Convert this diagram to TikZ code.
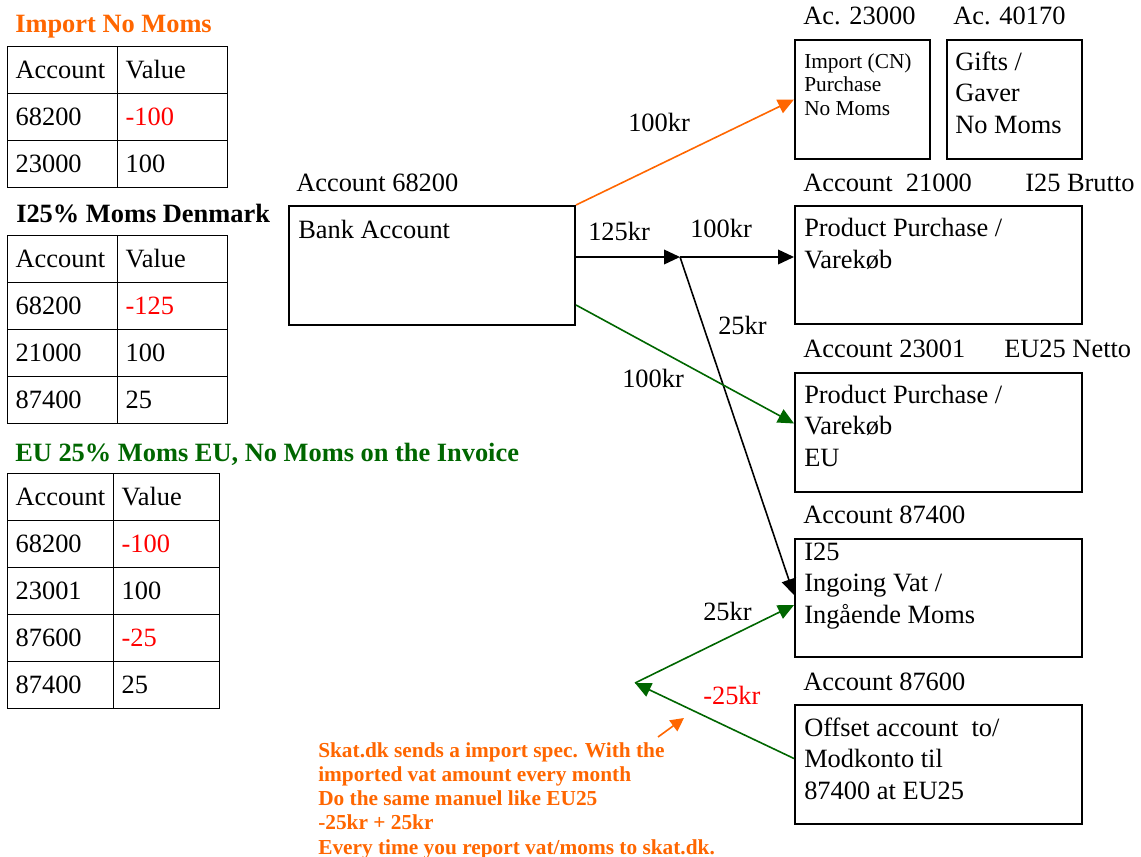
\documentclass[tikz,border=0pt]{standalone}
\usepackage{fontspec}
\setmainfont{Liberation Serif}
\usepackage{tikz}
\usetikzlibrary{arrows.meta, positioning, calc}
\definecolor{importorange}{RGB}{255,102,0}
\definecolor{eugreen}{RGB}{0,102,0}
\definecolor{minusred}{RGB}{255,0,0}

\begin{document}
\begin{tikzpicture}[
  x=0.75pt, y=-0.75pt,
  font=\fontsize{19.8pt}{23.3pt}\selectfont,
  cell/.style={draw, line width=1pt, anchor=north west, minimum height=35.25pt, inner xsep=6pt, inner ysep=0pt, text height=12.8pt, text depth=0pt, align=left},
  acct/.style={draw, line width=1.5pt, anchor=north west, inner sep=0pt},
  txt/.style={anchor=base west, inner sep=0pt, align=left},
  head/.style={txt, font=\fontsize{19.8pt}{23.3pt}\selectfont\bfseries},
  small/.style={txt, font=\fontsize{16pt}{17.6pt}\selectfont},
  note/.style={txt, text=importorange, font=\fontsize{16pt}{18.1pt}\selectfont\bfseries},
  flow/.style={line width=1.2pt, -{Triangle[length=12pt, width=11pt]}}
]
  \useasboundingbox (0,0) rectangle (1141,856);

  % booking tables
  \node[head, text=importorange] (impHead) at (15,33) {Import No Moms};
  \foreach \acc/\val/\col [count=\r from 0] in {Account/Value/black, 68200/-100/minusred, 23000/100/black} {
    \node[cell, text width=70.5pt] (impA\r) at (7,46+47*\r) {\acc};
    \node[cell, text width=70.5pt, text=\col] (impV\r) at (117,46+47*\r) {\val};
  }
  \node[head] (dkHead) at (16,222) {I25\% Moms Denmark};
  \foreach \acc/\val/\col [count=\r from 0] in {Account/Value/black, 68200/-125/minusred, 21000/100/black, 87400/25/black} {
    \node[cell, text width=70.5pt] (dkA\r) at (7,235+47*\r) {\acc};
    \node[cell, text width=70.5pt, text=\col] (dkV\r) at (117,235+47*\r) {\val};
  }
  \node[head, text=eugreen] (euHead) at (15,461) {EU 25\% Moms EU, No Moms on the Invoice};
  \foreach \acc/\val/\col [count=\r from 0] in {Account/Value/black, 68200/-100/minusred, 23001/100/black, 87600/-25/minusred, 87400/25/black} {
    \node[cell, text width=67.5pt] (euA\r) at (7,473+47*\r) {\acc};
    \node[cell, text width=67.5pt, text=\col] (euV\r) at (113,473+47*\r) {\val};
  }

  % accounts (multi-line texts sit on their last line)
  \node[acct, minimum width=214.5pt, minimum height=89.25pt] (bank) at (288,205) {};
  \node[txt] (bankLbl) at (296,191) {Account 68200};
  \node[txt] (bankTxt) at (298,238) {Bank Account};

  \node[acct, minimum width=101.25pt, minimum height=89.25pt] (b23000) at (794,39) {};
  \node[txt] (lbl23000) at (803,25) {Ac. 23000};
  \node[small] (txt23000) at (804,115) {Import (CN)\\Purchase\\No Moms};

  \node[acct, minimum width=101.25pt, minimum height=89.25pt] (b40170) at (946,39) {};
  \node[txt] (lbl40170) at (953,25) {Ac. 40170};
  \node[txt] (txt40170) at (955,133) {Gifts /\\Gaver\\No Moms};

  \node[acct, minimum width=215.25pt, minimum height=88.5pt] (b21000) at (794,205) {};
  \node[txt] (lbl21000) at (803,191) {Account~~21000};
  \node[txt] (tag21000) at (1025,191) {I25 Brutto};
  \node[txt] (txt21000) at (804,268) {Product Purchase /\\Varekøb};

  \node[acct, minimum width=215.25pt, minimum height=89.25pt] (b23001) at (794,372) {};
  \node[txt] (lbl23001) at (803,357) {Account 23001};
  \node[txt] (tag23001) at (1004,357) {EU25 Netto};
  \node[txt] (txt23001) at (804,466) {Product Purchase /\\Varekøb\\EU};

  \node[acct, minimum width=215.25pt, minimum height=88.5pt] (b87400) at (794,538) {};
  \node[txt] (lbl87400) at (803,523) {Account 87400};
  \node[txt] (txt87400) at (804,623) {I25\\Ingoing Vat /\\Ingående Moms};

  \node[acct, minimum width=215.25pt, minimum height=89.25pt] (b87600) at (794,704) {};
  \node[txt] (lbl87600) at (803,690) {Account 87600};
  \node[txt] (txt87600) at (804,799) {Offset account~~to/\\Modkonto til\\87400 at EU25};

  % money flows
  \coordinate (split) at (680,257);
  \coordinate (vat) at (635,683);
  \draw[flow, importorange] (bank.north east) -- (b23000.west);
  \draw[flow] (bank.east |- split) -- (split);
  \draw[flow] (split) -- (b21000.west |- split);
  \draw[flow] (split) -- ($(b87400.west)+(0,-3)$);
  \draw[flow, eugreen] ($(bank.south east)+(0,-21)$) -- ($(b23001.west)+(0,-9)$);
  \draw[flow, eugreen] (vat) -- ($(b87400.west)+(0,7)$);
  \draw[flow, eugreen] ($(b87600.west)+(0,-6)$) -- (vat);

  \node[txt] (kImp) at (628,131) {100kr};
  \node[txt] (kGross) at (588,240) {125kr};
  \node[txt] (kNet) at (690,237) {100kr};
  \node[txt] (kVat) at (718,334) {25kr};
  \node[txt] (kEu) at (622,387) {100kr};
  \node[txt] (kIn) at (703,620) {25kr};
  \node[txt, text=minusred] (kOut) at (703,704) {-25kr};

  % skat.dk remark
  \node[note] (skat) at (318,854) {Skat.dk sends a import spec. With the\\imported vat amount every month\\Do the same manuel like EU25\\-25kr + 25kr\\Every time you report vat/moms to skat.dk.};
  \coordinate (hintA) at (658,737);
  \coordinate (hintB) at (684,718);
  \draw[importorange, line width=1.2pt, -{Triangle[length=10pt, width=10pt]}] (hintA) -- (hintB);
\end{tikzpicture}
\end{document}
